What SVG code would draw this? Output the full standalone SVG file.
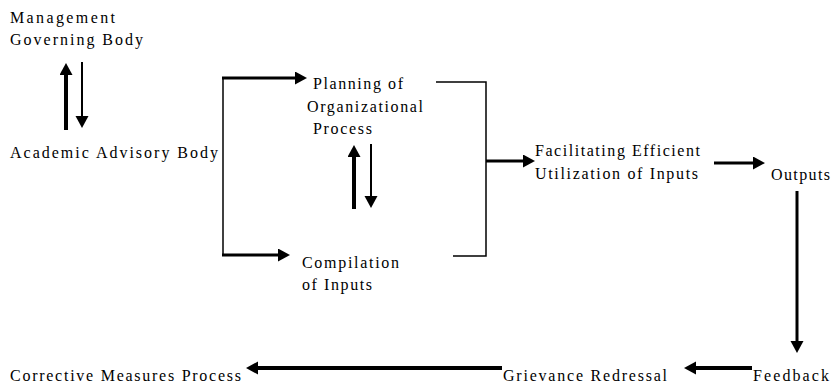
<svg xmlns="http://www.w3.org/2000/svg" width="832" height="387" viewBox="0 0 832 387" font-family="Liberation Serif, DejaVu Serif, serif">
<style>
text{font-size:16px;fill:#000}
.thin{stroke:#000;stroke-width:1.5;fill:none}
.a2{stroke:#000;stroke-width:2;fill:none}
.a3{stroke:#000;stroke-width:3;fill:none}
.a4{stroke:#000;stroke-width:4;fill:none}
</style>
<defs>
<marker id="ah" markerUnits="userSpaceOnUse" markerWidth="14" markerHeight="14" refX="4" refY="6.5" orient="auto" viewBox="0 0 14 14">
<path d="M0,0 L12,6.5 L0,13 z" fill="#000"/>
</marker>
</defs>
<rect width="832" height="387" fill="#fff"/>
<g id="mgb"><text x="10" y="23" textLength="105" lengthAdjust="spacing">Management</text><text x="10" y="45" textLength="133" lengthAdjust="spacing">Governing Body</text></g>
<g id="aab"><text x="10" y="158" textLength="208" lengthAdjust="spacing">Academic Advisory Body</text></g>
<g id="planning"><text x="313" y="89" textLength="90" lengthAdjust="spacing">Planning of</text><text x="307" y="112" textLength="116" lengthAdjust="spacing">Organizational</text><text x="313" y="134" textLength="59" lengthAdjust="spacing">Process</text></g>
<g id="compilation"><text x="302" y="268" textLength="97" lengthAdjust="spacing">Compilation</text><text x="302" y="290" textLength="70" lengthAdjust="spacing">of Inputs</text></g>
<g id="facilitating"><text x="535" y="156" textLength="165" lengthAdjust="spacing">Facilitating Efficient</text><text x="535" y="179" textLength="163" lengthAdjust="spacing">Utilization of Inputs</text></g>
<g id="outputs"><text x="771" y="180" textLength="59" lengthAdjust="spacing">Outputs</text></g>
<g id="feedback"><text x="753" y="381" textLength="76" lengthAdjust="spacing">Feedback</text></g>
<g id="grievance"><text x="503" y="381" textLength="164" lengthAdjust="spacing">Grievance Redressal</text></g>
<g id="corrective"><text x="10" y="381" textLength="231" lengthAdjust="spacing">Corrective Measures Process</text></g>
<g id="connectors">
<line class="a4" x1="66" y1="130" x2="66" y2="71" marker-end="url(#ah)"/>
<line class="a2" x1="82" y1="62" x2="82" y2="120" marker-end="url(#ah)"/>
<polyline class="thin" points="223,255 223,78"/>
<line class="a3" x1="222" y1="78" x2="299" y2="78" marker-end="url(#ah)"/>
<line class="a3" x1="222" y1="255" x2="282" y2="255" marker-end="url(#ah)"/>
<line class="a4" x1="354" y1="209" x2="354" y2="153" marker-end="url(#ah)"/>
<line class="a2" x1="371" y1="144" x2="371" y2="200" marker-end="url(#ah)"/>
<polyline class="thin" points="436,82 486,82 486,256 453,256"/>
<line class="a3" x1="486" y1="161" x2="527" y2="161" marker-end="url(#ah)"/>
<line class="a3" x1="714" y1="163" x2="757" y2="163" marker-end="url(#ah)"/>
<line class="a3" x1="797" y1="191" x2="797" y2="345" marker-end="url(#ah)"/>
<line class="a4" x1="752" y1="368" x2="692" y2="368" marker-end="url(#ah)"/>
<line class="a4" x1="502" y1="368" x2="254" y2="368" marker-end="url(#ah)"/>
</g>
</svg>
